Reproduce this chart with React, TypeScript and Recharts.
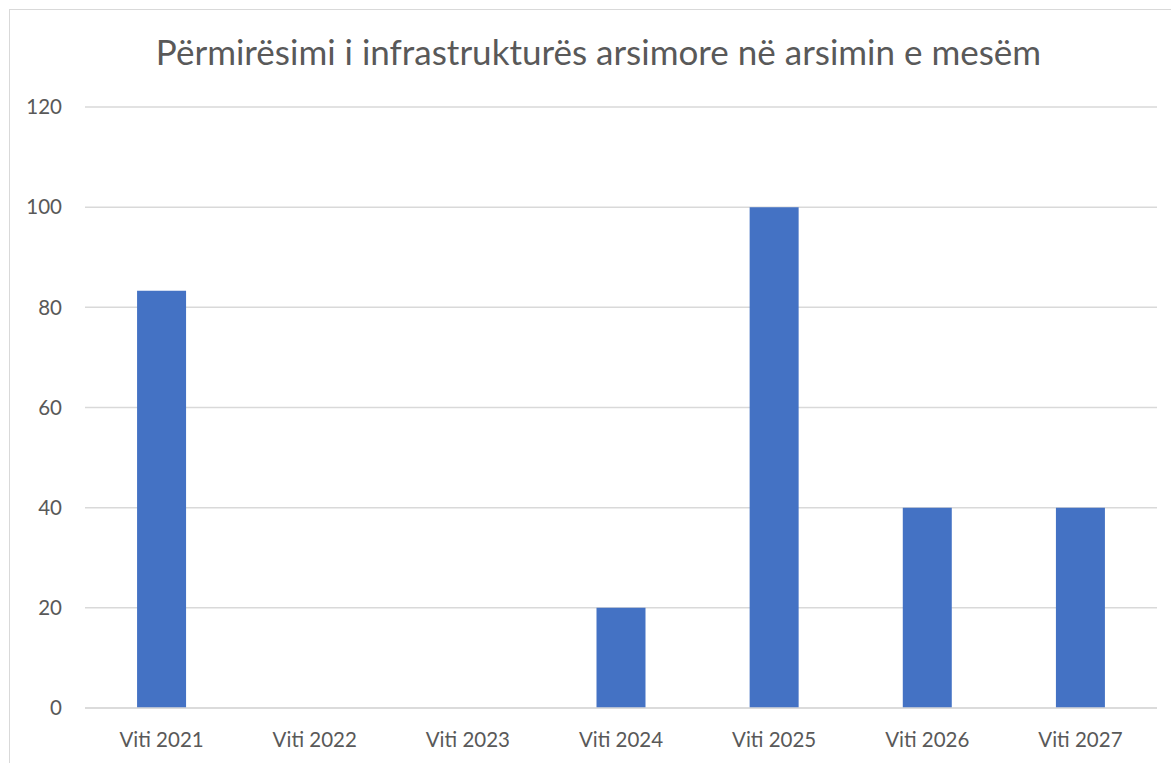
import React from "react";
import { BarChart, Bar, XAxis, YAxis, CartesianGrid } from "recharts";

const years = ["Viti 2021", "Viti 2022", "Viti 2023", "Viti 2024", "Viti 2025", "Viti 2026", "Viti 2027"];
const values = [83.33, 0, 0, 20, 100, 40, 40];
const yTicks = [0, 20, 40, 60, 80, 100, 120];

const data = years.map((year, i) => ({ year, value: values[i] }));

const FONT = "Lato, 'Open Sans', sans-serif";
const TEXT = "#595959";

export default function App() {
  return (
    <div style={{ position: "absolute", left: 0, top: 0, width: 1171, height: 763, background: "#fff", overflow: "hidden" }}>
      {/* chart frame, only top and left edges are in view */}
      <div
        style={{
          position: "absolute",
          left: 9,
          top: 9,
          width: 1200,
          height: 800,
          borderTop: "1px solid #d9d9d9",
          borderLeft: "1px solid #d9d9d9",
        }}
      />
      <div
        style={{
          position: "absolute",
          left: 0,
          width: 1197,
          top: 28,
          textAlign: "center",
          fontFamily: FONT,
          fontSize: 35,
          color: TEXT,
          lineHeight: "46px",
        }}
      >
        Përmirësimi i infrastrukturës arsimore në arsimin e mesëm
      </div>
      <div style={{ position: "absolute", left: 0, top: 0 }}>
        <BarChart
          width={1171}
          height={763}
          data={data}
          margin={{ top: 107, right: 14, left: 0, bottom: 0 }}
          barCategoryGap="34%"
        >
          <CartesianGrid stroke="#d9d9d9" strokeWidth={1.5} vertical={false} />
          <XAxis
            dataKey="year"
            height={55}
            axisLine={{ stroke: "#d9d9d9", strokeWidth: 1.5 }}
            tickLine={false}
            tickSize={0}
            tickMargin={24}
            tick={{ fill: TEXT, fontSize: 20.5, fontFamily: FONT }}
          />
          <YAxis
            width={85}
            domain={[0, 120]}
            ticks={yTicks}
            axisLine={false}
            tickLine={false}
            tickSize={0}
            tickMargin={23}
            tick={{ fill: TEXT, fontSize: 20.5, fontFamily: FONT }}
          />
          <Bar dataKey="value" fill="#4472c4" isAnimationActive={false} />
        </BarChart>
      </div>
    </div>
  );
}
